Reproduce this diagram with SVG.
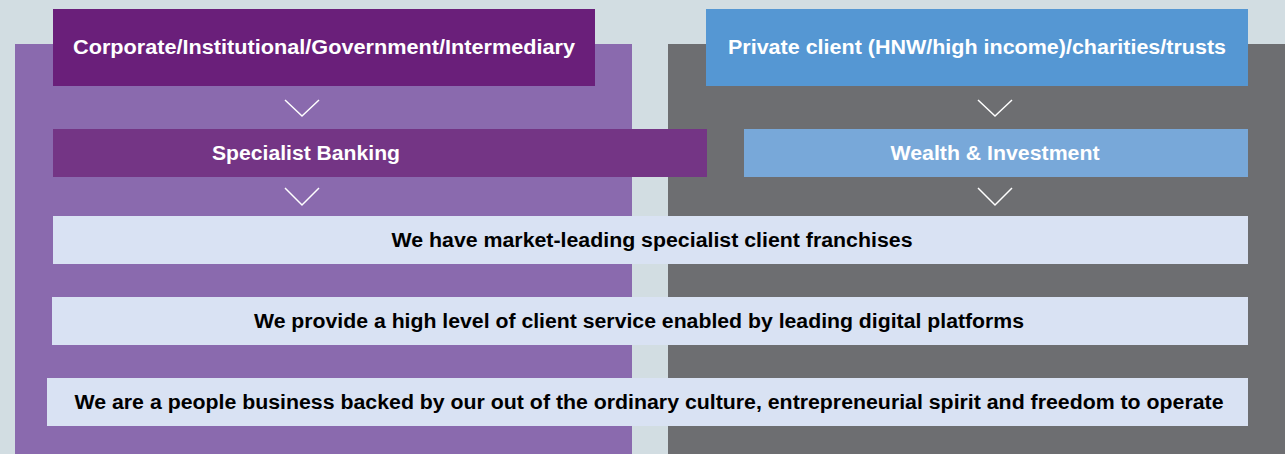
<svg xmlns="http://www.w3.org/2000/svg" width="1285" height="454" viewBox="0 0 1285 454">
<style>
.t{font-family:"Liberation Sans",Arial,sans-serif;font-weight:bold;font-size:20px;text-anchor:middle}
.w{fill:#ffffff}
.k{fill:#000000}
.bar{fill:#d9e2f3}
.chev{fill:none;stroke:#ffffff;stroke-width:1.5}
</style>
<rect x="0" y="0" width="1285" height="454" fill="#d2dde2"/>
<g id="panel-left"><rect x="15" y="44" width="617" height="410" fill="#8a6aae"/></g>
<g id="panel-right"><rect x="668" y="44" width="617" height="410" fill="#6d6e71"/></g>
<g id="node-corporate">
<rect x="53" y="9" width="542" height="77" fill="#6a1f7a"/>
<text class="t w" x="324" y="54" textLength="502" lengthAdjust="spacingAndGlyphs">Corporate/Institutional/Government/Intermediary</text>
</g>
<g id="node-private">
<rect x="706" y="9" width="542" height="77" fill="#5597d3"/>
<text class="t w" x="977" y="54" textLength="498" lengthAdjust="spacingAndGlyphs">Private client (HNW/high income)/charities/trusts</text>
</g>
<g id="node-specialist">
<rect x="53" y="129" width="654" height="48" fill="#743585"/>
<text class="t w" x="306" y="160" textLength="188" lengthAdjust="spacingAndGlyphs">Specialist Banking</text>
</g>
<g id="node-wealth">
<rect x="744" y="129" width="504" height="48" fill="#78a8d9"/>
<text class="t w" x="995" y="160" textLength="209" lengthAdjust="spacingAndGlyphs">Wealth &amp; Investment</text>
</g>
<g id="node-franchises">
<rect class="bar" x="53" y="216" width="1195" height="48"/>
<text class="t k" x="652" y="247" textLength="521" lengthAdjust="spacingAndGlyphs">We have market-leading specialist client franchises</text>
</g>
<g id="node-service">
<rect class="bar" x="52" y="297" width="1196" height="48"/>
<text class="t k" x="639" y="328" textLength="770" lengthAdjust="spacingAndGlyphs">We provide a high level of client service enabled by leading digital platforms</text>
</g>
<g id="node-people">
<rect class="bar" x="47" y="378" width="1201" height="48"/>
<text class="t k" x="649" y="409" textLength="1149" lengthAdjust="spacingAndGlyphs">We are a people business backed by our out of the ordinary culture, entrepreneurial spirit and freedom to operate</text>
</g>
<g id="connectors">
<polyline class="chev" points="285,100 302,116 319,100"/>
<polyline class="chev" points="285,188 302,205 319,188"/>
<polyline class="chev" points="978,100 995,116 1012,100"/>
<polyline class="chev" points="978,188 995,205 1012,188"/>
</g>
</svg>
